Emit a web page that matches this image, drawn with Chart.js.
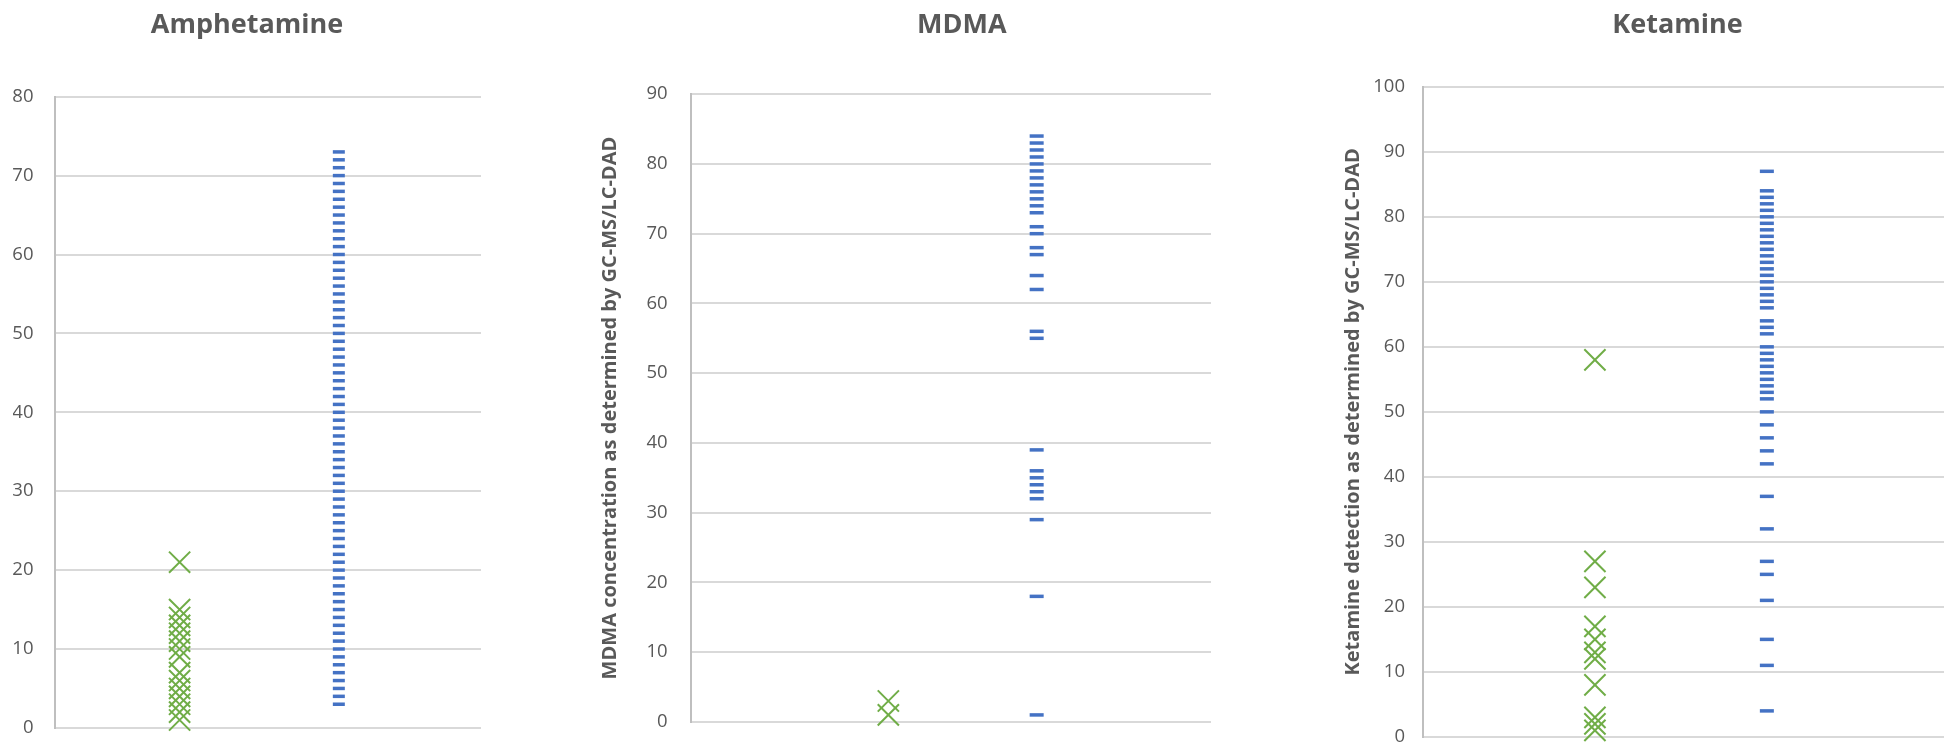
<!DOCTYPE html>
<html>
<head>
<meta charset="utf-8">
<script src="https://cdn.jsdelivr.net/npm/chart.js@4.4.1/dist/chart.umd.min.js"></script>
<style>
  html, body { margin: 0; padding: 0; background: #ffffff; overflow: hidden; width: 1944px; height: 744px; }
  canvas { position: absolute; top: 0; display: block; }
</style>
</head>
<body>
<canvas id="c1" width="481" height="760" style="left:0px;width:481px;height:760px"></canvas>
<canvas id="c2" width="613" height="756" style="left:598px;width:613px;height:756px"></canvas>
<canvas id="c3" width="603" height="766" style="left:1341px;width:603px;height:766px"></canvas>
<script>
// Panel titles
const titles = ['Amphetamine', 'MDMA', 'Ketamine'];
const yAxisTitles = ['', 'MDMA concentration as determined by GC-MS/LC-DAD', 'Ketamine detection as determined by GC-MS/LC-DAD'];

// Y-axis ranges
const yMax = [80, 90, 100];

// Amphetamine
const amphetamineGreen = [21, 15, 14, 13, 12, 11, 10, 9, 7, 6, 5, 4, 3, 2, 1];
const amphetamineBlue = [73, 72, 71, 70, 69, 68, 67, 66, 65, 64, 63, 62, 61, 60, 59, 58, 57, 56, 55, 54,
  53, 52, 51, 50, 49, 48, 47, 46, 45, 44, 43, 42, 41, 40, 39, 38, 37, 36, 35, 34, 33, 32, 31, 30,
  29, 28, 27, 26, 25, 24, 23, 22, 21, 20, 19, 18, 17, 16, 15, 14, 13, 12, 11, 10, 9, 8, 7, 6, 5, 4, 3];

// MDMA
const mdmaGreen = [3, 1];
const mdmaBlue = [84, 83, 82, 81, 80, 79, 78, 77, 76, 75, 74, 73, 71, 70, 68, 67, 64, 62, 56, 55,
  39, 36, 35, 34, 33, 32, 29, 18, 1];

// Ketamine
const ketamineGreen = [58, 27, 23, 17, 15, 13, 12, 8, 3, 2, 1];
const ketamineBlue = [87, 84, 83, 82, 81, 80, 79, 78, 77, 76, 75, 74, 73, 72, 71, 70, 69, 68, 67, 66,
  64, 63, 62, 60, 59, 58, 57, 56, 55, 54, 53, 52, 50, 48, 46, 44, 42, 37, 32, 27, 25, 21, 15, 11, 4];

const GREEN = '#70ad47';
const BLUE = '#4472c4';
const TEXT = '#595959';
const GRID = '#d9d9d9';

// layout per panel: x column for each series, y-axis box width, title placement, padding
const panelLayout = [
  { greenX: 0.88, blueX: 2.0, axisWidth: 41.5, padLeft: 13, tickPad: 21, titleBottom: 55.5, fullTitle: true, titleShift: 0, dash: 6 },
  { greenX: 1.14, blueX: 1.995, axisWidth: 92.6, padLeft: 0, tickPad: 23, titleBottom: 53.0, fullTitle: false, titleShift: 11, dash: 7 },
  { greenX: 0.99, blueX: 1.98, axisWidth: 82, padLeft: 0, tickPad: 18, titleBottom: 45.6, fullTitle: false, titleShift: -6, dash: 7 }
];

// nudges the chart title horizontally after layout
const titleShiftPlugin = {
  id: 'titleShift',
  afterLayout(chart, args, opts) {
    const t = chart.titleBlock;
    if (t && opts.dx) { t.left += opts.dx; t.right += opts.dx; }
  }
};

function makeChart(canvasId, idx, green, blue) {
  const L = panelLayout[idx];
  const toPoints = (vals, x) => vals.map(v => ({ x: x, y: v }));
  return new Chart(document.getElementById(canvasId), {
    type: 'scatter',
    plugins: [titleShiftPlugin],
    data: {
      datasets: [
        {
          label: 'Series 1',
          data: toPoints(green, L.greenX),
          pointStyle: 'crossRot',
          pointRadius: 15,
          borderColor: GREEN,
          backgroundColor: 'rgba(0,0,0,0)',
          pointBorderWidth: 2,
          clip: false
        },
        {
          label: 'Series 2',
          data: toPoints(blue, L.blueX),
          pointStyle: 'line',
          pointRadius: L.dash,
          borderColor: BLUE,
          backgroundColor: BLUE,
          pointBorderWidth: 3.5,
          clip: false
        }
      ]
    },
    options: {
      responsive: false,
      maintainAspectRatio: false,
      devicePixelRatio: 1,
      animation: false,
      events: [],
      layout: { autoPadding: false, padding: { left: L.padLeft, right: 0, top: 0, bottom: 0 } },
      plugins: {
        legend: { display: false },
        tooltip: { enabled: false },
        titleShift: { dx: L.titleShift },
        title: {
          display: true,
          text: titles[idx],
          color: TEXT,
          fullSize: L.fullTitle,
          font: { family: "'Open Sans', sans-serif", size: 27, weight: 'bold', lineHeight: 1.2 },
          padding: { top: 8.8, bottom: L.titleBottom }
        }
      },
      scales: {
        x: {
          type: 'linear',
          min: 0,
          max: 3,
          display: false
        },
        y: {
          min: 0,
          max: yMax[idx],
          afterFit: (s) => { s.width = L.axisWidth; },
          ticks: {
            stepSize: 10,
            color: TEXT,
            padding: L.tickPad,
            font: { family: "'Open Sans', sans-serif", size: 18.5 }
          },
          grid: { color: GRID, lineWidth: 2, drawTicks: false },
          border: { display: true, color: '#bfbfbf', width: 2 },
          title: {
            display: yAxisTitles[idx] !== '',
            text: yAxisTitles[idx],
            color: TEXT,
            font: { family: "'Open Sans', sans-serif", size: 20, weight: 'bold', lineHeight: 1.2 },
            padding: { top: 0, bottom: 0 }
          }
        }
      }
    }
  });
}

makeChart('c1', 0, amphetamineGreen, amphetamineBlue);
makeChart('c2', 1, mdmaGreen, mdmaBlue);
makeChart('c3', 2, ketamineGreen, ketamineBlue);
</script>
</body>
</html>
